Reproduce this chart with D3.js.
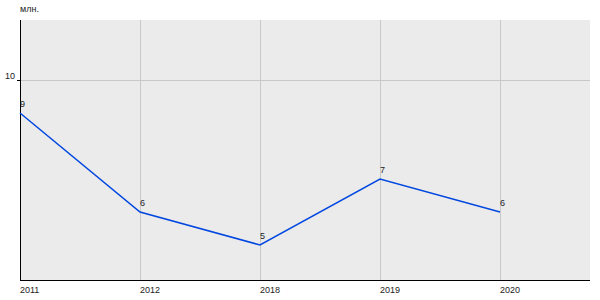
<!DOCTYPE html>
<html>
<head>
<meta charset="utf-8">
<script src="https://cdn.jsdelivr.net/npm/d3@7"></script>
<style>
body { margin: 0; background: #fff; }
text { font-family: "Liberation Sans", Arial, sans-serif; font-size: 9px; fill: #222; }
</style>
</head>
<body>
<div id="chart"></div>
<script>
// data
var years = ["2011", "2012", "2018", "2019", "2020"];
var values = [9, 6, 5, 7, 6];
var yTicks = [10];
var unitLabel = "млн.";

var width = 600, height = 300;
var plot = {left: 20, top: 20, right: 590, bottom: 280};

var svg = d3.select("#chart").append("svg")
    .attr("width", width)
    .attr("height", height);

// scales
var x = d3.scalePoint().domain(years).range([plot.left, plot.left + 480]);
var y = d3.scaleLinear()
    .domain([10 - 200 / 33, 10 + 60 / 33])
    .range([plot.bottom, plot.top]);

// plot background
svg.append("rect")
    .attr("x", plot.left).attr("y", plot.top)
    .attr("width", plot.right - plot.left)
    .attr("height", plot.bottom - plot.top)
    .attr("fill", "#ebebeb");

// vertical grid
svg.selectAll(".vgrid").data(years.slice(1)).enter().append("line")
    .attr("x1", function(d) { return x(d) + 0.5; })
    .attr("x2", function(d) { return x(d) + 0.5; })
    .attr("y1", plot.top).attr("y2", plot.bottom)
    .attr("stroke", "#c8c8c8").attr("stroke-width", 1);

// horizontal grid
svg.selectAll(".hgrid").data(yTicks).enter().append("line")
    .attr("x1", plot.left).attr("x2", plot.right)
    .attr("y1", function(d) { return Math.round(y(d)) + 0.5; })
    .attr("y2", function(d) { return Math.round(y(d)) + 0.5; })
    .attr("stroke", "#c8c8c8").attr("stroke-width", 1);

// axes lines
svg.append("line")
    .attr("x1", plot.left + 0.5).attr("x2", plot.left + 0.5)
    .attr("y1", plot.top).attr("y2", plot.bottom + 1)
    .attr("stroke", "#000");
svg.append("line")
    .attr("x1", plot.left).attr("x2", plot.right)
    .attr("y1", plot.bottom + 0.5).attr("y2", plot.bottom + 0.5)
    .attr("stroke", "#000");

// y tick marks and labels
svg.selectAll(".ytick").data(yTicks).enter().append("line")
    .attr("x1", plot.left - 3).attr("x2", plot.left)
    .attr("y1", function(d) { return Math.round(y(d)) + 0.5; })
    .attr("y2", function(d) { return Math.round(y(d)) + 0.5; })
    .attr("stroke", "#000");
svg.selectAll(".ylab").data(yTicks).enter().append("text")
    .attr("x", plot.left - 5)
    .attr("y", function(d) { return y(d) - 1; })
    .attr("text-anchor", "end")
    .text(function(d) { return d; });

svg.append("text")
    .attr("x", plot.left).attr("y", 12)
    .text(unitLabel);

// x labels
svg.selectAll(".xlab").data(years).enter().append("text")
    .attr("x", function(d) { return x(d); })
    .attr("y", 293)
    .text(function(d) { return d; });

// line
var line = d3.line()
    .x(function(d, i) { return x(years[i]); })
    .y(function(d) { return y(d); });

svg.append("path")
    .attr("d", line(values))
    .attr("fill", "none")
    .attr("stroke", "#0047e0")
    .attr("stroke-width", 1.5);

// value labels
svg.selectAll(".vlab").data(values).enter().append("text")
    .attr("x", function(d, i) { return x(years[i]); })
    .attr("y", function(d) { return y(d) - 6; })
    .text(function(d) { return d; });
</script>
</body>
</html>
